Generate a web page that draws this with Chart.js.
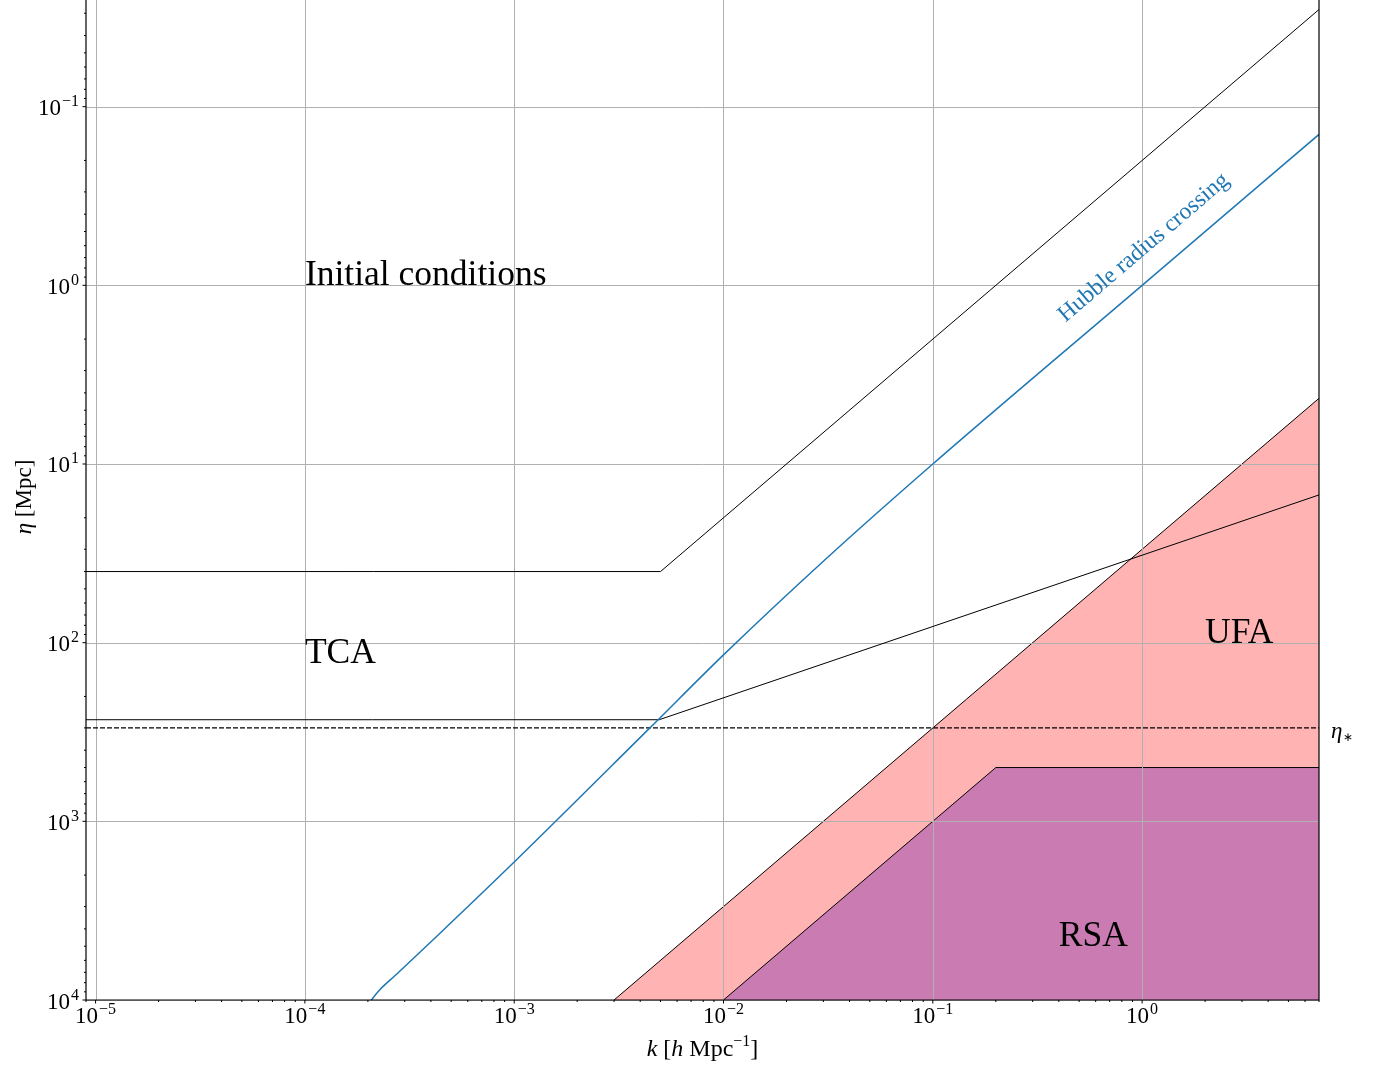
<!DOCTYPE html>
<html>
<head>
<meta charset="utf-8">
<script src="https://cdn.jsdelivr.net/npm/chart.js@4.4.0/dist/chart.umd.min.js"></script>
<style>
  html, body { margin: 0; padding: 0; background: #fff; }
</style>
</head>
<body>
<canvas id="miGrafico" width="1380" height="1065"></canvas>
<script>
// k en h/Mpc, eta en Mpc
var kHubble   = [1.87e-4, 2.08e-4, 2.28e-4, 2.69e-4, 4.1e-4, 1e-3, 4.45e-3, 1e-2, 3e-2, 1e-1, 1, 7];
var etaHubble = [1.2e4, 1e4, 8770, 7320, 4600, 1690, 300, 117, 35, 10, 1, 0.143];

var kInicial   = [9e-6, 5e-3, 7];
var etaInicial = [40, 40, 0.0286];

var kTca   = [9e-6, 4.93e-3, 7];
var etaTca = [270, 270, 14.9];

var etaEstrella = 300;

var kUfa   = [3e-3, 7];
var etaUfa = [1e4, 4.29];

var kRsa   = [1e-2, 0.2, 7];
var etaRsa = [1e4, 500, 500];

var kMin = 9e-6, kMax = 7;
var etaMin = 0.0253, etaMax = 1e4;

var xTicks = [1e-5, 1e-4, 1e-3, 1e-2, 1e-1, 1];
var xTickLabels = ['\u22125', '\u22124', '\u22123', '\u22122', '\u22121', '0'];
var yTicks = [1e-1, 1, 10, 100, 1000, 10000];
var yTickLabels = ['\u22121', '0', '1', '2', '3', '4'];

var FUENTE = '"Liberation Serif", "Times New Roman", serif';

function puntos(ks, etas) {
  return ks.map(function (k, i) { return { x: k, y: etas[i] }; });
}

// marcas menores 2..9 de cada década
function menores(min, max) {
  var out = [];
  for (var e = -6; e <= 5; e++) {
    for (var m = 2; m <= 9; m++) {
      var v = m * Math.pow(10, e);
      if (v >= min && v <= max) out.push(v);
    }
  }
  return out;
}

function potencia(ctx, exp, x, y, align) {
  ctx.font = '23px ' + FUENTE;
  var wBase = ctx.measureText('10').width;
  ctx.font = '16px ' + FUENTE;
  var wExp = ctx.measureText(exp).width;
  var total = wBase + 1 + wExp;
  var x0 = align === 'center' ? x - total / 2 : x - total;
  ctx.textAlign = 'left';
  ctx.textBaseline = 'alphabetic';
  ctx.font = '23px ' + FUENTE;
  ctx.fillText('10', x0, y);
  ctx.font = '16px ' + FUENTE;
  ctx.fillText(exp, x0 + wBase + 1, y - 9);
}

// dibuja trozos de texto [texto, estilo, tamaño, desplazamiento]
function trozos(ctx, partes, x, y) {
  var total = 0;
  partes.forEach(function (p) {
    ctx.font = p[1] + ' ' + p[2] + 'px ' + FUENTE;
    total += ctx.measureText(p[0]).width;
  });
  var cx = x - total / 2;
  ctx.textAlign = 'left';
  ctx.textBaseline = 'alphabetic';
  partes.forEach(function (p) {
    ctx.font = p[1] + ' ' + p[2] + 'px ' + FUENTE;
    ctx.fillText(p[0], cx, y + p[3]);
    cx += ctx.measureText(p[0]).width;
  });
}

var rejilla = {
  id: 'rejilla',
  afterDatasetDraw: function (chart, args) {
    if (args.index !== 4) return;
    var ctx = chart.ctx, a = chart.chartArea;
    var sx = chart.scales.x, sy = chart.scales.y;
    ctx.save();
    ctx.strokeStyle = '#b0b0b0';
    ctx.lineWidth = 1;
    xTicks.forEach(function (v) {
      var px = Math.round(sx.getPixelForValue(v)) + 0.5;
      ctx.beginPath(); ctx.moveTo(px, a.top); ctx.lineTo(px, a.bottom); ctx.stroke();
    });
    yTicks.forEach(function (v) {
      var py = Math.round(sy.getPixelForValue(v)) + 0.5;
      ctx.beginPath(); ctx.moveTo(a.left, py); ctx.lineTo(a.right, py); ctx.stroke();
    });
    ctx.restore();
  },
  afterDraw: function (chart) {
    var ctx = chart.ctx, a = chart.chartArea;
    var sx = chart.scales.x, sy = chart.scales.y;
    ctx.save();

    // ejes
    ctx.strokeStyle = '#000';
    ctx.lineWidth = 1.2;
    ctx.beginPath();
    ctx.moveTo(a.left, a.top); ctx.lineTo(a.left, a.bottom); ctx.lineTo(a.right, a.bottom); ctx.lineTo(a.right, a.top);
    ctx.stroke();

    // marcas
    ctx.lineWidth = 1;
    xTicks.forEach(function (v) {
      var px = sx.getPixelForValue(v);
      ctx.beginPath(); ctx.moveTo(px, a.bottom); ctx.lineTo(px, a.bottom + 3.5); ctx.stroke();
    });
    menores(kMin, kMax).forEach(function (v) {
      var px = sx.getPixelForValue(v);
      ctx.beginPath(); ctx.moveTo(px, a.bottom); ctx.lineTo(px, a.bottom + 2); ctx.stroke();
    });
    yTicks.forEach(function (v) {
      var py = sy.getPixelForValue(v);
      ctx.beginPath(); ctx.moveTo(a.left, py); ctx.lineTo(a.left - 3.5, py); ctx.stroke();
    });
    menores(etaMin, etaMax).forEach(function (v) {
      var py = sy.getPixelForValue(v);
      ctx.beginPath(); ctx.moveTo(a.left, py); ctx.lineTo(a.left - 2, py); ctx.stroke();
    });

    // etiquetas de las marcas
    ctx.fillStyle = '#000';
    xTicks.forEach(function (v, i) {
      potencia(ctx, xTickLabels[i], sx.getPixelForValue(v), a.bottom + 23, 'center');
    });
    yTicks.forEach(function (v, i) {
      potencia(ctx, yTickLabels[i], a.left - 7, sy.getPixelForValue(v) + 8.5, 'right');
    });

    // títulos de los ejes
    trozos(ctx, [['k', 'italic', 24, 0], [' [', 'normal', 24, 0], ['h', 'italic', 24, 0],
                 [' Mpc', 'normal', 24, 0], ['\u22121', 'normal', 16, -10], [']', 'normal', 24, 0]],
           (a.left + a.right) / 2, a.bottom + 56);
    ctx.save();
    ctx.translate(31, (a.top + a.bottom) / 2 - 3);
    ctx.rotate(-Math.PI / 2);
    trozos(ctx, [['\u03b7', 'italic', 23, 0], [' [Mpc]', 'normal', 23, 0]], 0, 0);
    ctx.restore();

    // regiones
    ctx.font = '35.5px ' + FUENTE;
    ctx.textAlign = 'left';
    ctx.textBaseline = 'alphabetic';
    ctx.fillText('Initial conditions', sx.getPixelForValue(1e-4), sy.getPixelForValue(1));
    ctx.fillText('TCA', sx.getPixelForValue(1e-4), sy.getPixelForValue(130));
    ctx.fillText('UFA', sx.getPixelForValue(2), sy.getPixelForValue(100));
    ctx.fillText('RSA', sx.getPixelForValue(0.4), sy.getPixelForValue(5000));

    // eta estrella
    var pyStar = sy.getPixelForValue(etaEstrella);
    ctx.font = 'italic 23px ' + FUENTE;
    ctx.fillText('\u03b7', a.right + 12, pyStar + 10);
    var wEta = ctx.measureText('\u03b7').width;
    ctx.font = '12px ' + FUENTE;
    ctx.fillText('\u2217', a.right + 13 + wEta, pyStar + 13);

    // cruce del radio de Hubble
    var p1x = sx.getPixelForValue(1), p1y = sy.getPixelForValue(1);
    var p2x = sx.getPixelForValue(0.1), p2y = sy.getPixelForValue(10);
    var ang = Math.atan2(p2y - p1y, p1x - p2x);
    ctx.save();
    ctx.translate(sx.getPixelForValue(0.43), sy.getPixelForValue(1.62));
    ctx.rotate(-ang);
    ctx.fillStyle = '#1f77b4';
    ctx.font = '23.5px ' + FUENTE;
    ctx.fillText('Hubble radius crossing', 0, 0);
    ctx.restore();

    ctx.restore();
  }
};

var canvas = document.getElementById('miGrafico');
var grafico = new Chart(canvas, {
  type: 'line',
  data: {
    datasets: [
      { label: 'Hubble', data: puntos(kHubble, etaHubble), borderColor: '#1f77b4', borderWidth: 1.5, pointRadius: 0, fill: false, cubicInterpolationMode: 'monotone' },
      { label: 'Inicial', data: puntos(kInicial, etaInicial), borderColor: '#000', borderWidth: 1, pointRadius: 0, fill: false },
      { label: 'TCA', data: puntos(kTca, etaTca), borderColor: '#000', borderWidth: 1, pointRadius: 0, fill: false },
      { label: 'eta*', data: puntos([kMin, kMax], [etaEstrella, etaEstrella]), borderColor: '#000', borderWidth: 1.2, borderDash: [5, 2], pointRadius: 0, fill: false },
      { label: 'RSA', data: puntos(kRsa, etaRsa), borderColor: '#000', borderWidth: 1, pointRadius: 0, fill: { value: etaMax }, backgroundColor: '#c97bb2' },
      { label: 'UFA', data: puntos(kUfa, etaUfa), borderColor: '#000', borderWidth: 1, pointRadius: 0, fill: { value: etaMax }, backgroundColor: '#ffb3b3' }
    ]
  },
  options: {
    responsive: false,
    animation: false,
    devicePixelRatio: 1,
    layout: { padding: { left: 0, right: 61, top: 0, bottom: 0 } },
    plugins: { legend: { display: false }, tooltip: { enabled: false } },
    scales: {
      x: {
        type: 'logarithmic', min: kMin, max: kMax,
        ticks: { display: false }, grid: { display: false }, border: { display: false },
        afterFit: function (s) { s.height = 65; }
      },
      y: {
        type: 'logarithmic', reverse: true, min: etaMin, max: etaMax,
        ticks: { display: false }, grid: { display: false }, border: { display: false },
        afterFit: function (s) { s.width = 86; }
      }
    }
  },
  plugins: [rejilla]
});
</script>
</body>
</html>
